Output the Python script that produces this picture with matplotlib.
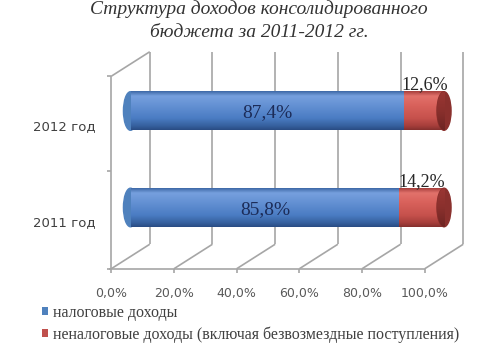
import numpy as np
import matplotlib
matplotlib.use("Agg")
import matplotlib.pyplot as plt
from matplotlib.colors import LinearSegmentedColormap
from matplotlib.patches import Ellipse
from matplotlib import transforms

# ---- data ----
categories = ["2011 год", "2012 год"]
tax_income = [0.858, 0.874]
nontax_income = [0.142, 0.126]
tax_labels = ["85,8%", "87,4%"]
nontax_labels = ["14,2%", "12,6%"]
xticks = [0.0, 0.2, 0.4, 0.6, 0.8, 1.0]
xtick_labels = ["0,0%", "20,0%", "40,0%", "60,0%", "80,0%", "100,0%"]
series_names = ["налоговые доходы",
                "неналоговые доходы (включая безвозмездные поступления)"]
title = "Структура доходов консолидированного\nбюджета за 2011-2012 гг."

W, H = 484, 356
fig = plt.figure(figsize=(W / 100, H / 100), dpi=100)

# mid-plane axes (pixel geometry)
x0_px, x1_px = 130.5, 444.0
top_px, floor_px = 64.0, 256.5
ax = fig.add_axes([x0_px / W, 1 - floor_px / H, (x1_px - x0_px) / W, (floor_px - top_px) / H])
ylo, yhi = -0.508, 1.487
ax.set_xlim(0, 1)
ax.set_ylim(ylo, yhi)
ax.axis("off")

# depth offsets (px) converted to data units
dx_px, dy_px = 19.25, 12.25
ox = dx_px / (x1_px - x0_px)
oy = dy_px / ((floor_px - top_px) / (yhi - ylo))

grid_c = "#A6A6A6"
lw = 1.2
kw = dict(color=grid_c, lw=lw, clip_on=False, zorder=1, solid_capstyle="butt")

# back wall gridlines
for t in xticks:
    ax.plot([t + ox, t + ox], [ylo + oy, yhi + oy], **kw)
# floor diagonals
for t in xticks:
    ax.plot([t - ox, t + ox], [ylo - oy, ylo + oy], **kw)
# front floor line
ax.plot([-ox - 0.008, 1 - ox], [ylo - oy, ylo - oy], **kw)
# front tick marks
for t in xticks:
    ax.plot([t - ox, t - ox], [ylo - oy, ylo - oy - 0.04], **kw)
# left wall
ax.plot([-ox, -ox], [ylo - oy, yhi - oy], **kw)
ax.plot([-ox, ox], [yhi - oy, yhi + oy], **kw)
for yy in [ylo, 0.5, yhi]:
    ax.plot([-ox - 0.012, -ox], [yy - oy, yy - oy], **kw)

# tick labels
tick_tr = transforms.offset_copy(ax.transData, fig=fig, x=0, y=-25, units="dots")
for t, lab in zip(xticks, xtick_labels):
    ax.text(t - ox, ylo - oy, lab, transform=tick_tr, ha="center", va="center",
            fontsize=9, color="#595959", family="DejaVu Sans")
cat_tr = transforms.offset_copy(ax.transData, fig=fig, x=-16, y=-3, units="dots")
ypos = np.arange(len(categories))
for y, lab in zip(ypos, categories):
    ax.text(-ox, y - oy, lab, transform=cat_tr, ha="right", va="center",
            fontsize=9.5, color="#404040", family="DejaVu Sans")

# ---- bars ----
blue = "#4F81BD"
red = "#C0504D"
cm_blue = LinearSegmentedColormap.from_list("b", [
    (0.0, "#3f6aa8"), (0.12, "#76a0de"), (0.35, "#6592d4"),
    (0.7, "#4a7cc3"), (0.9, "#36609e"), (1.0, "#2a4c84")])
cm_red = LinearSegmentedColormap.from_list("r", [
    (0.0, "#a8403d"), (0.12, "#e2726b"), (0.35, "#d9625c"),
    (0.7, "#c6514c"), (0.9, "#a63e3b"), (1.0, "#86302e")])
cm_cap = LinearSegmentedColormap.from_list("c", [
    (0.0, "#9a3633"), (0.5, "#8a302d"), (1.0, "#6e2523")])
grad = np.linspace(0, 1, 64).reshape(-1, 1)

bh = 0.4
cap_w = 0.045

def shade(patch, cmap, x_a, x_b, yc):
    im = ax.imshow(grad, cmap=cmap, aspect="auto", origin="upper",
                   extent=(x_a, x_b, yc - bh / 2, yc + bh / 2),
                   zorder=patch.get_zorder() + 0.01, interpolation="bilinear")
    im.set_clip_path(patch)
    im.set_clip_box(None)

b1 = ax.barh(ypos, tax_income, height=bh, color=blue, zorder=3, label=series_names[0])
b2 = ax.barh(ypos, nontax_income, left=tax_income, height=bh, color=red, zorder=3,
             label=series_names[1])

for y, v1, v2, r1, r2 in zip(ypos, tax_income, nontax_income, b1.patches, b2.patches):
    # left rounded end
    e_left = Ellipse((0, y), cap_w, bh, color=blue, zorder=2.9, clip_on=False)
    ax.add_patch(e_left)
    shade(e_left, cm_blue, -cap_w, cap_w, y)
    shade(r1, cm_blue, 0, v1, y)
    shade(r2, cm_red, v1, v1 + v2, y)
    e_right = Ellipse((v1 + v2, y), cap_w, bh, color="#8a302d", zorder=3.5, clip_on=False)
    ax.add_patch(e_right)
    shade(e_right, cm_cap, v1 + v2 - cap_w, v1 + v2 + cap_w, y)

# data labels
for y, v1, v2, l1, l2 in zip(ypos, tax_income, nontax_income, tax_labels, nontax_labels):
    ax.text(v1 / 2, y - 0.02, l1, ha="center", va="center", fontsize=14,
            color="#1c2c58", family="Liberation Serif", zorder=6)
    ax.text(v1 + v2 / 2, y + 0.27, l2, ha="center", va="center", fontsize=13,
            color="#262626", family="Liberation Serif", zorder=6)

ax.set_xlim(0, 1)
ax.set_ylim(ylo, yhi)

# legend
fig.legend(handles=[b1, b2], labels=series_names, loc="upper left",
           bbox_to_anchor=(42 / W, 1 - 305 / H), frameon=False,
           prop={"family": "Liberation Serif", "size": 11.5},
           handlelength=0.4, handleheight=0.4, handletextpad=0.3,
           labelspacing=0.35, borderaxespad=0, borderpad=0,
           labelcolor="#404040")

# title
fig.text(259 / W, 1 - 0 / H, title, ha="center", va="top", fontsize=14,
         style="italic", family="Liberation Serif", color="#333333",
         linespacing=1.5)

fig.savefig("out.png", dpi=100)
